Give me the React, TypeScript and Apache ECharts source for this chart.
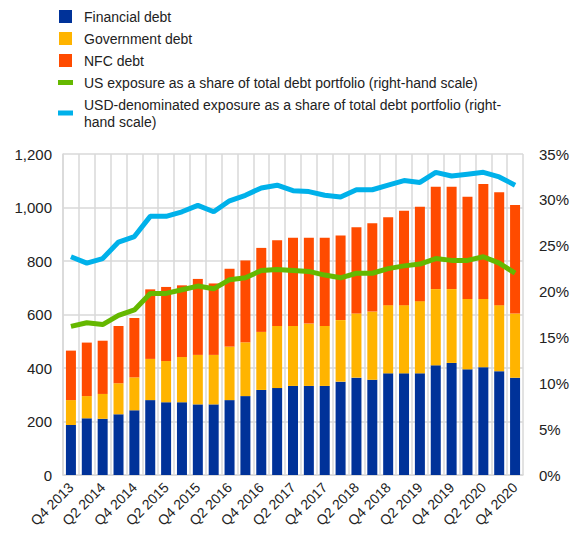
import React, { useEffect, useRef } from "react";
import * as echarts from "echarts";

const categories = [
  "Q4 2013",
  "Q1 2014", "Q2 2014", "Q3 2014", "Q4 2014",
  "Q1 2015", "Q2 2015", "Q3 2015", "Q4 2015",
  "Q1 2016", "Q2 2016", "Q3 2016", "Q4 2016",
  "Q1 2017", "Q2 2017", "Q3 2017", "Q4 2017",
  "Q1 2018", "Q2 2018", "Q3 2018", "Q4 2018",
  "Q1 2019", "Q2 2019", "Q3 2019", "Q4 2019",
  "Q1 2020", "Q2 2020", "Q3 2020", "Q4 2020",
];

const financialDebt = [187, 212, 210, 227, 242, 280, 272, 272, 264, 264, 280, 295, 318, 325, 333, 333, 333, 349, 364, 356, 380, 380, 380, 410, 419, 395, 403, 388, 364];
const governmentDebt = [93, 83, 93, 116, 123, 154, 154, 169, 185, 185, 200, 201, 217, 232, 224, 233, 224, 230, 240, 255, 255, 255, 270, 285, 276, 263, 255, 247, 240];
const nfcDebt = [185, 200, 199, 214, 222, 260, 277, 268, 284, 267, 291, 306, 314, 321, 330, 321, 330, 316, 322, 330, 329, 353, 353, 383, 383, 382, 430, 422, 405];
const usShare = [16.2, 16.6, 16.4, 17.4, 18.0, 19.8, 19.8, 20.2, 20.6, 20.3, 21.3, 21.5, 22.3, 22.4, 22.3, 22.2, 21.8, 21.5, 22.0, 22.0, 22.5, 22.8, 23.0, 23.6, 23.4, 23.4, 23.8, 23.1, 22.0];
const usdShare = [23.8, 23.1, 23.6, 25.4, 26.0, 28.2, 28.2, 28.7, 29.4, 28.7, 29.9, 30.5, 31.3, 31.6, 31.0, 30.9, 30.5, 30.3, 31.1, 31.1, 31.6, 32.1, 31.9, 33.0, 32.6, 32.8, 33.0, 32.5, 31.6];

const NAMES = [
  "Financial debt",
  "Government debt",
  "NFC debt",
  "US exposure as a share of total debt portfolio (right-hand scale)",
  "USD-denominated exposure as a share of total debt portfolio (right-hand scale)",
];

const COLORS = ["#003299", "#FFB400", "#FF4B00", "#65B800", "#00B1EA"];

const SQUARE = "path://M0,0h13v13h-13z";
const BAR_LINE = "path://M0,0h15v5h-15z";

export default function App() {
  const ref = useRef<HTMLDivElement>(null);

  useEffect(() => {
    if (!ref.current) return;
    const chart = echarts.init(ref.current, undefined, { renderer: "svg" });
    const font = "'Liberation Sans', Arial, sans-serif";
    const gridColor = "#d9d9d9";

    const barSeries = [financialDebt, governmentDebt, nfcDebt].map((d, i) => ({
      name: NAMES[i],
      type: "bar",
      stack: "debt",
      barWidth: 10,
      data: d,
      itemStyle: { color: COLORS[i] },
    }));

    const lineSeries = [usShare, usdShare].map((d, i) => ({
      name: NAMES[3 + i],
      type: "line",
      yAxisIndex: 1,
      data: d,
      symbol: "none",
      lineStyle: { color: COLORS[3 + i], width: 5 },
      itemStyle: { color: COLORS[3 + i] },
    }));

    chart.setOption({
      animation: false,
      textStyle: { fontFamily: font },
      legend: {
        orient: "vertical",
        left: 53,
        top: 3,
        itemWidth: 15,
        itemHeight: 13,
        itemGap: 5,
        selectedMode: false,
        data: NAMES.map((n, i) => ({
          name: n,
          icon: i < 3 ? SQUARE : BAR_LINE,
          itemStyle: { color: COLORS[i] },
        })),
        formatter: (name: string) =>
          name === NAMES[4]
            ? "USD-denominated exposure as a share of total debt portfolio (right-\nhand scale)"
            : name,
        textStyle: {
          fontFamily: font,
          fontSize: 14,
          color: "#222",
          lineHeight: 17,
          padding: [0, 0, 0, 6],
        },
      },
      grid: { left: 63, right: 60, top: 154, bottom: 63, containLabel: false },
      xAxis: {
        type: "category",
        data: categories,
        boundaryGap: true,
        axisLine: { show: true, lineStyle: { color: gridColor, width: 1.5 } },
        axisTick: { show: false },
        splitLine: { show: true, interval: 0, lineStyle: { color: gridColor, width: 1.5 } },
        axisLabel: {
          interval: 1,
          rotate: 45,
          margin: 10,
          fontSize: 14,
          color: "#222",
          fontFamily: font,
        },
      },
      yAxis: [
        {
          type: "value",
          min: 0,
          max: 1200,
          interval: 200,
          axisLine: { show: true, lineStyle: { color: gridColor, width: 1.5 } },
          axisTick: { show: false },
          splitLine: { show: true, lineStyle: { color: gridColor, width: 1.5 } },
          axisLabel: {
            margin: 11,
            fontSize: 15,
            color: "#222",
            fontFamily: font,
            formatter: (v: number) => v.toLocaleString("en-US"),
          },
        },
        {
          type: "value",
          min: 0,
          max: 35,
          interval: 5,
          axisLine: { show: false },
          axisTick: { show: false },
          splitLine: { show: false },
          axisLabel: {
            margin: 16,
            fontSize: 15,
            color: "#222",
            fontFamily: font,
            formatter: "{value}%",
          },
        },
      ],
      series: [...barSeries, ...lineSeries],
    });

    return () => chart.dispose();
  }, []);

  return <div ref={ref} style={{ width: 583, height: 538, position: "absolute", left: 0, top: 0 }} />;
}
